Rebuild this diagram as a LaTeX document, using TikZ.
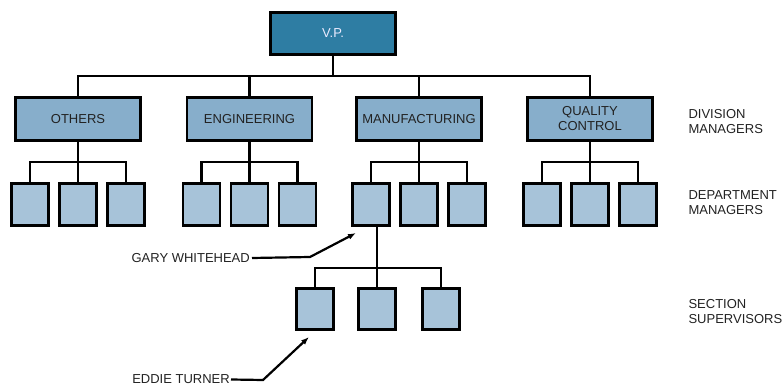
\documentclass[tikz,border=0pt]{standalone}
\usepackage{fontspec}
\setmainfont{Liberation Sans}
\usepackage{tikz}
\usetikzlibrary{arrows.meta,positioning,calc}
\definecolor{vpblue}{RGB}{46,125,163}
\definecolor{divblue}{RGB}{135,174,203}
\definecolor{depblue}{RGB}{167,195,217}
\definecolor{ink}{RGB}{34,34,34}
\begin{document}
\begin{tikzpicture}[x=1pt,y=-1pt,
  every node/.style={font=\fontsize{13}{15}\selectfont,text=ink},
  b/.style={draw,line width=2.8pt,inner sep=0pt,align=center},
  dv/.style={b,fill=divblue,minimum width=125pt,minimum height=43pt},
  dp/.style={b,fill=depblue,minimum width=37pt,minimum height=42pt},
  ln/.style={line width=2.6pt},
  e/.style={-{Latex[length=8pt,width=6pt]},line width=2.2pt}]
 \useasboundingbox (0,0) rectangle (782,387);
 \node[b,fill=vpblue,text=blue!8!white,minimum width=125pt,minimum height=42pt] (vp) at (333,33.5) {V.P.};
 \node[dv] (oth) at (78,119) {OTHERS};
 \node[dv] (eng) at (249.5,119) {ENGINEERING};
 \node[dv] (mfg) at (419,119) {MANUFACTURING};
 \node[dv] (qc) at (590,119) {QUALITY\\CONTROL};
 % top level
 \coordinate (bus) at (333,76);
 \draw[ln] (vp.south) -- (bus);
 \draw[ln] (oth.north) -- ++(0,-20) -| (qc.north);
 \draw[ln] (eng.north) -- (eng.north |- bus);
 \draw[ln] (mfg.north) -- (mfg.north |- bus);
 % department managers
 \foreach \d in {oth,eng,mfg,qc} {
  \foreach \i/\dx in {1/-48,2/0,3/48}
   \node[dp] (\d\i) at ($(\d)+(\dx,85.5)$) {};
  \draw[ln] (\d.south) -- (\d2.north);
  \draw[ln] (\d1.north) -- ++(0,-20) -| (\d3.north);
 }
 % section supervisors
 \node[dp,minimum height=41pt] (s1) at (315,309) {};
 \node[dp,minimum height=41pt] (s2) at (377,309) {};
 \node[dp,minimum height=41pt] (s3) at (441,309) {};
 \draw[ln] (s2.north) -- (s2.north |- mfg1.south);
 \draw[ln] (s1.north) -- ++(0,-19) -| (s3.north);
 % labels
 \node[anchor=west,align=left] (lvl1) at (685,121.5) {DIVISION\\MANAGERS};
 \node[anchor=west,align=left] (lvl2) at (685,203) {DEPARTMENT\\MANAGERS};
 \node[anchor=west,align=left] (lvl3) at (685,312) {SECTION\\SUPERVISORS};
 \node[anchor=east,inner sep=2pt] (gary) at (252,258) {GARY WHITEHEAD};
 \node[anchor=east,inner sep=1pt] (eddie) at (231,379.5) {EDDIE TURNER};
 \coordinate (gk) at (310,257);
 \coordinate (gt) at (356,233);
 \coordinate (ek) at (263,380);
 \coordinate (et) at (309,337);
 \draw[e] (gary.east) -- (gk) -- (gt);
 \draw[e] (eddie.east) -- (ek) -- (et);
\end{tikzpicture}
\end{document}
